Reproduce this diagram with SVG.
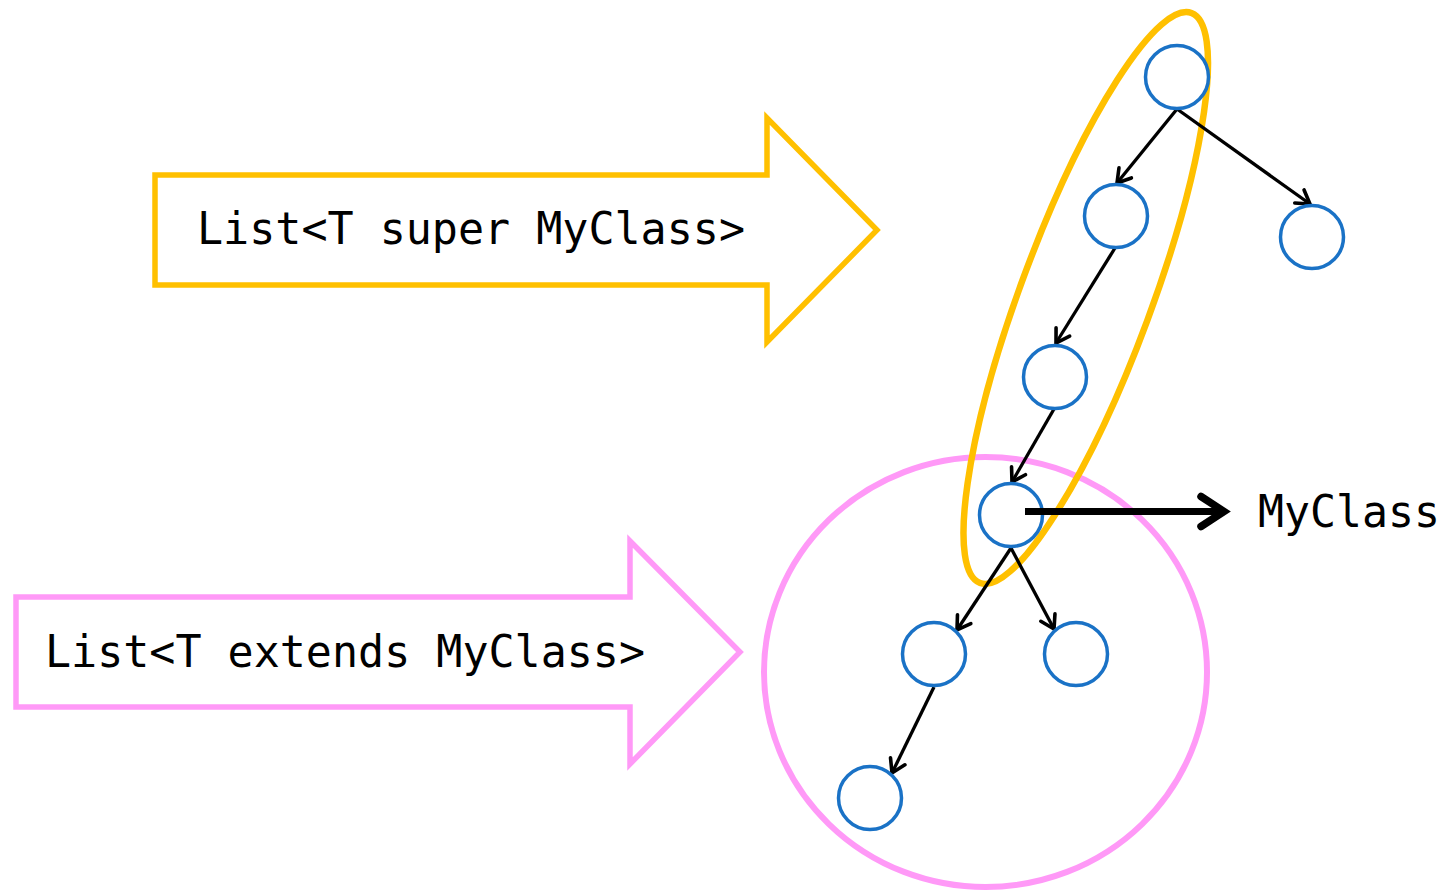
<svg xmlns="http://www.w3.org/2000/svg" width="1447" height="893" viewBox="0 0 1447 893">
<style>
.node{fill:#ffffff;stroke:#1a72c6;stroke-width:3.5}
.edge{stroke:#000;stroke-width:3.3;fill:none;marker-end:url(#arr)}
.lbl{font-family:"DejaVu Sans Mono","Liberation Mono",monospace;font-size:44px;fill:#000}
</style>
<defs>
<marker id="arr" markerUnits="userSpaceOnUse" orient="auto" overflow="visible" markerWidth="1" markerHeight="1" refX="0" refY="0">
<path d="M -13 -8 L 0 0 L -13 8" fill="none" stroke="#000" stroke-width="3.6" stroke-linecap="round" stroke-linejoin="miter"/>
</marker>
<marker id="arrBig" markerUnits="userSpaceOnUse" orient="auto" overflow="visible" markerWidth="1" markerHeight="1" refX="0" refY="0">
<path d="M -23 -15 L 0 0 L -23 15" fill="none" stroke="#000" stroke-width="7.5" stroke-linecap="round" stroke-linejoin="miter"/>
</marker>
</defs>
<rect width="1447" height="893" fill="#ffffff"/>
<g id="super-arrow">
<polygon points="155,175 767,175 767,118 877,230 767,342 767,285 155,285" fill="#ffffff" stroke="#ffc000" stroke-width="5.5"/>
<text class="lbl" x="197" y="244" textLength="548" lengthAdjust="spacingAndGlyphs">List&lt;T super MyClass&gt;</text>
</g>
<g id="extends-arrow">
<polygon points="16,597 630,597 630,541 740,652 630,764 630,707 16,707" fill="#ffffff" stroke="#ff99f7" stroke-width="5.5"/>
<text class="lbl" x="45" y="667" textLength="600" lengthAdjust="spacingAndGlyphs">List&lt;T extends MyClass&gt;</text>
</g>
<g id="extends-region">
<ellipse cx="985.5" cy="672" rx="221.5" ry="215" fill="none" stroke="#ff99f7" stroke-width="6"/>
</g>
<g id="super-region">
<ellipse cx="1085.75" cy="298" rx="65.5" ry="304" transform="rotate(20.35 1085.75 298)" fill="none" stroke="#ffc000" stroke-width="6.5"/>
</g>
<g id="connectors">
<line class="edge" x1="1177" y1="109" x2="1117" y2="183"/>
<line class="edge" x1="1177" y1="109" x2="1310" y2="204"/>
<line class="edge" x1="1115" y1="248" x2="1056" y2="343"/>
<line class="edge" x1="1054" y1="409" x2="1012" y2="482"/>
<line class="edge" x1="1011" y1="548" x2="957" y2="630"/>
<line class="edge" x1="1011" y1="548" x2="1054" y2="629"/>
<line class="edge" x1="934" y1="687" x2="892" y2="773"/>
</g>
<g id="nodes">
<g id="n1"><circle class="node" cx="1177" cy="77" r="31.5"/></g>
<g id="n2"><circle class="node" cx="1116" cy="216" r="31.5"/></g>
<g id="n3"><circle class="node" cx="1312" cy="237" r="31.5"/></g>
<g id="n4"><circle class="node" cx="1055" cy="377" r="31.5"/></g>
<g id="n5"><circle class="node" cx="1011" cy="515" r="31.5"/></g>
<g id="n6"><circle class="node" cx="934" cy="654" r="31.5"/></g>
<g id="n7"><circle class="node" cx="1076" cy="654" r="31.5"/></g>
<g id="n8"><circle class="node" cx="870" cy="798" r="31.5"/></g>
</g>
<g id="myclass-pointer">
<line x1="1025" y1="511.5" x2="1224" y2="511.5" stroke="#000" stroke-width="7" marker-end="url(#arrBig)"/>
</g>
<g id="myclass-label">
<text class="lbl" x="1258" y="527" textLength="182" lengthAdjust="spacingAndGlyphs">MyClass</text>
</g>
</svg>
